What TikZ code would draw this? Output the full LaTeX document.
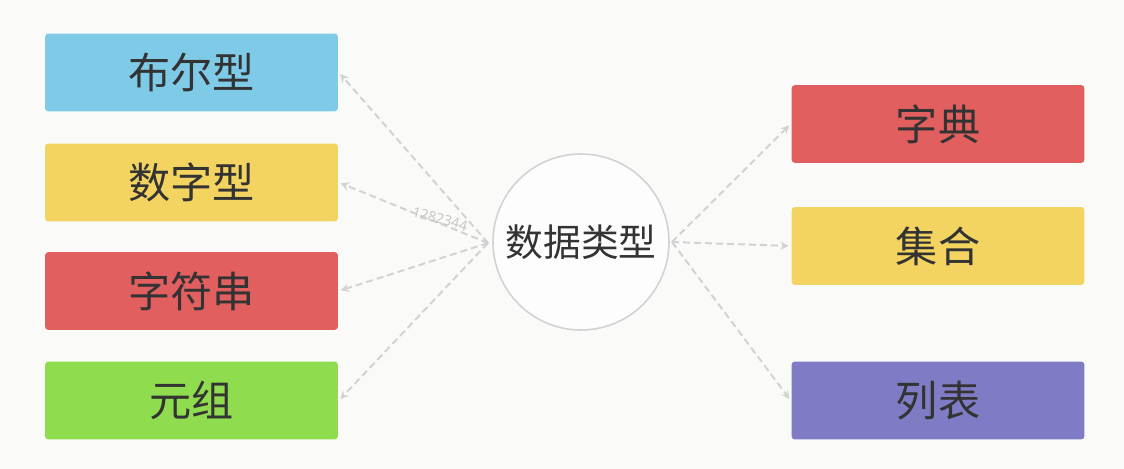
\documentclass[tikz,border=0pt]{standalone}
\usepackage{fontspec}
\setmainfont{Noto Sans}
\newfontfamily\cjk{Noto Sans CJK SC}
\definecolor{bgcol}{HTML}{FAFAF9}
\definecolor{cblue}{HTML}{7FCBE7}
\definecolor{cyellow}{HTML}{F3D460}
\definecolor{cred}{HTML}{E25F5F}
\definecolor{cgreen}{HTML}{90DC4F}
\definecolor{cpurple}{HTML}{7F7CC5}
\definecolor{ctext}{HTML}{333333}
\definecolor{clink}{HTML}{D2D2D2}
\tikzset{
  typebox/.style={rectangle, rounded corners=2pt, minimum width=5.86cm, minimum height=1.56cm,
    inner sep=0pt, text=ctext, font=\cjk\fontsize{24}{28}\selectfont},
  hub/.style={circle, draw=clink, line width=0.9pt, fill=white!60!bgcol, minimum size=3.52cm,
    inner sep=0pt, text=ctext, font=\cjk\fontsize{21.5}{26}\selectfont},
  link/.style={->, draw=clink, line width=1.1pt, dash pattern=on 0.14cm off 0.08cm, shorten >=0.04cm},
  wmark/.style={text=black!22, font=\fontsize{8}{9}\selectfont, inner sep=0pt}
}
\begin{document}
\begin{tikzpicture}[line width=1.0pt,line join=round,>=stealth,x=0.02cm,y=-0.02cm]
  \fill[bgcol] (0,0) rectangle (1124,469);
  \node[hub] (dtype) at (581,242) {数据类型};
  \coordinate (lsrc) at (488,243);
  \coordinate (rsrc) at (672,242);
  % left column
  \foreach \nm/\txt/\col/\yy in {bool/布尔型/cblue/72.5, num/数字型/cyellow/182.5,
                                 str/字符串/cred/291, tup/元组/cgreen/400.5}{
      \node[typebox, fill=\col] (\nm) at (191.5,\yy) {\txt};
      \draw[link] (lsrc) -- (\nm.east);
  }
  % right column
  \foreach \nm/\txt/\col/\yy in {dict/字典/cred/124, set/集合/cyellow/246, list/列表/cpurple/400.5}{
      \node[typebox, fill=\col] (\nm) at (938,\yy) {\txt};
      \draw[link] (rsrc) -- (\nm.west);
  }
  \node[wmark, rotate=-15] (wm) at (440,219) {1282344};
\end{tikzpicture}
\end{document}
